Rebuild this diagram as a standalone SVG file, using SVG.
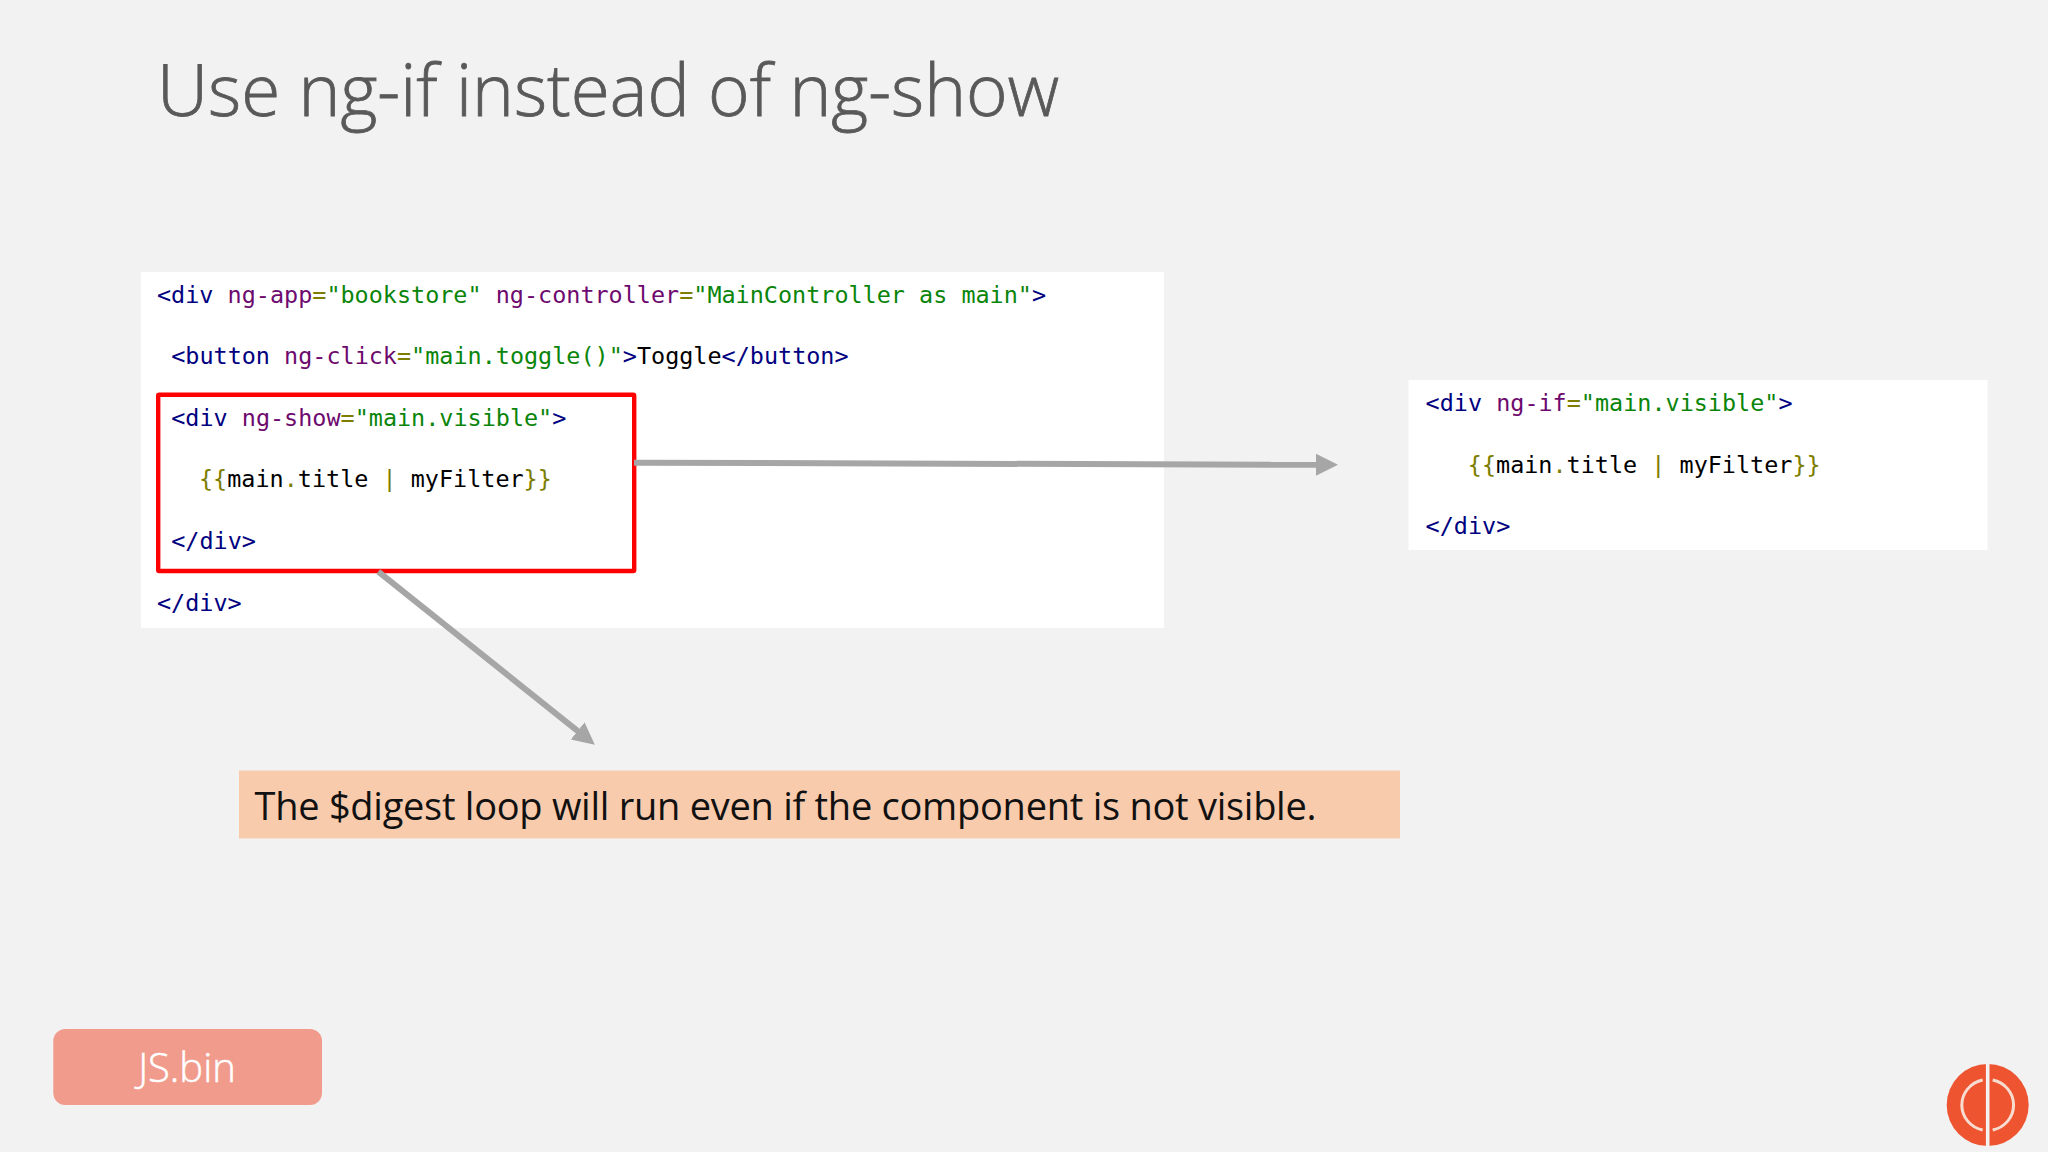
<svg xmlns="http://www.w3.org/2000/svg" width="2048" height="1152" viewBox="0 0 2048 1152">
<style>
.code{font-family:"DejaVu Sans Mono","Liberation Mono",monospace;font-size:23.45px;fill:#000}
.t{fill:#000080}.a{fill:#6e0a6e}.s{fill:#0a850a}.o{fill:#7d7d00}
.ui{font-family:"Open Sans","Noto Sans",sans-serif}
.arrow{stroke:#a6a6a6;stroke-width:6;fill:none}
</style>
<defs><marker id="head" markerUnits="userSpaceOnUse" markerWidth="24" markerHeight="24" refX="3" refY="12" orient="auto"><path d="M0 1L22 12L0 23z" fill="#a6a6a6"/></marker></defs>
<rect width="2048" height="1152" fill="#f2f2f3"/>
<text id="title" class="ui" x="157" y="116" font-size="71" font-weight="300" textLength="902" stroke="#595959" stroke-width="0.8" fill="#595959">Use ng-if instead of ng-show</text>
<g id="code-left">
<rect x="141" y="272" width="1023" height="356" fill="#fff"/>
<text class="code" x="157" y="302.7"><tspan class="t">&lt;div</tspan> <tspan class="a">ng-app</tspan><tspan class="o">=</tspan><tspan class="s">"bookstore"</tspan> <tspan class="a">ng-controller</tspan><tspan class="o">=</tspan><tspan class="s">"MainController as main"</tspan><tspan class="t">&gt;</tspan></text>
<text class="code" x="171.2" y="364"><tspan class="t">&lt;button</tspan> <tspan class="a">ng-click</tspan><tspan class="o">=</tspan><tspan class="s">"main.toggle()"</tspan><tspan class="t">&gt;</tspan>Toggle<tspan class="t">&lt;/button&gt;</tspan></text>
<text class="code" x="171.2" y="425.7"><tspan class="t">&lt;div</tspan> <tspan class="a">ng-show</tspan><tspan class="o">=</tspan><tspan class="s">"main.visible"</tspan><tspan class="t">&gt;</tspan></text>
<text class="code" x="199" y="487.3"><tspan class="o">{{</tspan>main<tspan class="o">.</tspan>title <tspan class="o">|</tspan> myFilter<tspan class="o">}}</tspan></text>
<text class="code" x="171.2" y="549"><tspan class="t">&lt;/div&gt;</tspan></text>
<text class="code" x="157" y="610.7"><tspan class="t">&lt;/div&gt;</tspan></text>
</g>
<g id="highlight"><rect x="158.2" y="394.8" width="476" height="176.2" fill="none" stroke="#f00" stroke-width="4.4" rx="1"/></g>
<g id="code-right">
<rect x="1408.5" y="380" width="579" height="170" fill="#fff"/>
<text class="code" x="1425.6" y="410.7"><tspan class="t">&lt;div</tspan> <tspan class="a">ng-if</tspan><tspan class="o">=</tspan><tspan class="s">"main.visible"</tspan><tspan class="t">&gt;</tspan></text>
<text class="code" x="1467.8" y="472.7"><tspan class="o">{{</tspan>main<tspan class="o">.</tspan>title <tspan class="o">|</tspan> myFilter<tspan class="o">}}</tspan></text>
<text class="code" x="1425.6" y="533.5"><tspan class="t">&lt;/div&gt;</tspan></text>
</g>
<g id="connectors">
<path class="arrow" d="M634 462.7L1319 464.8" marker-end="url(#head)"/>
<path class="arrow" d="M378.3 571.7L580 732.8" marker-end="url(#head)"/>
</g>
<g id="note">
<rect x="239" y="770.5" width="1161" height="68" fill="#f8cbad"/>
<text class="ui" x="254.5" y="819.5" font-size="38" textLength="1062" fill="#111">The $digest loop will run even if the component is not visible.</text>
</g>
<g id="jsbin">
<rect x="53.3" y="1029" width="268.7" height="76" rx="12" fill="#f19b8d"/>
<text class="ui" x="187" y="1082" font-size="40" text-anchor="middle" font-weight="300" stroke="#fff" stroke-width="0.5" fill="#fff">JS.bin</text>
</g>
<g id="logo">
<circle cx="1987.7" cy="1105" r="41" fill="#ee5430"/>
<path d="M1987.7 1062V1148" stroke="#f2f2f3" stroke-width="3.6"/>
<path d="M1982.7 1080A26 25.5 0 0 0 1982.7 1130M1992.7 1080A26 25.5 0 0 1 1992.7 1130" fill="none" stroke="#f9dcd0" stroke-width="3"/>
</g>
</svg>
